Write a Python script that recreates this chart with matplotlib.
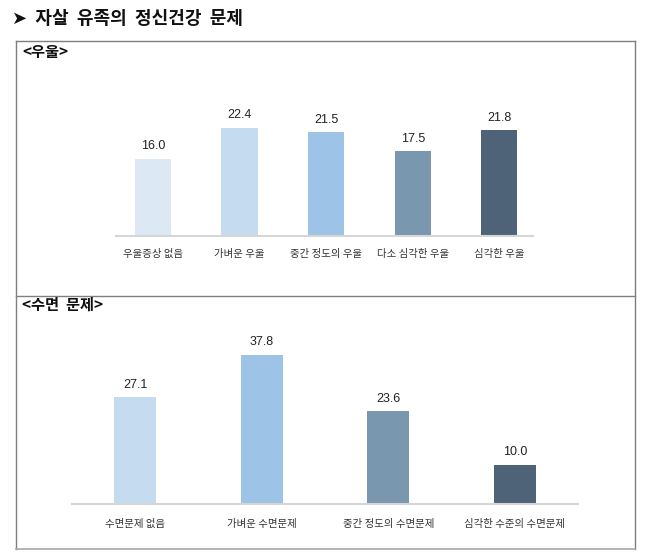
import matplotlib
matplotlib.use("Agg")
import matplotlib.pyplot as plt
from matplotlib.lines import Line2D

plt.rcParams['font.family'] = ['Noto Sans CJK KR', 'DejaVu Sans']

W, H = 658, 559

# 우울
dep_labels = ["우울증상 없음", "가벼운 우울", "중간 정도의 우울", "다소 심각한 우울", "심각한 우울"]
dep_values = [16.0, 22.4, 21.5, 17.5, 21.8]
dep_colors = ["#dce9f5", "#c5dcf0", "#9dc3e6", "#7a97b0", "#4f6378"]

# 수면 문제
sleep_labels = ["수면문제 없음", "가벼운 수면문제", "중간 정도의 수면문제", "심각한 수준의 수면문제"]
sleep_values = [27.1, 37.8, 23.6, 10.0]
sleep_colors = ["#c5dcf0", "#9dc3e6", "#7a97b0", "#4f6378"]


def px_axes(fig, x0, x1, y_top, y_base):
    # pixel box (top-down coords) -> figure axes
    return fig.add_axes([x0 / W, 1 - y_base / H, (x1 - x0) / W, (y_base - y_top) / H])


def bar_panel(ax, labels, values, colors, width, xlim, ymax, pad):
    x = range(len(values))
    ax.bar(x, values, width=width, color=colors)
    for i, v in zip(x, values):
        ax.annotate(f"{v:.1f}", (i, v), xytext=(0, 4.5), textcoords="offset points",
                    ha="center", va="bottom", fontsize=9, color="#222222",
                    family=["Liberation Sans", "DejaVu Sans"])
    ax.set_xlim(*xlim)
    ax.set_ylim(0, ymax)
    ax.set_xticks(list(x))
    ax.set_xticklabels(labels, fontsize=7.5, color="#333333")
    ax.tick_params(axis="x", length=0, pad=pad)
    ax.set_yticks([])
    for s in ["top", "right", "left"]:
        ax.spines[s].set_visible(False)
    ax.spines["bottom"].set_color("#d6d6d6")
    ax.spines["bottom"].set_linewidth(1.5)
    ax.patch.set_alpha(0)


fig = plt.figure(figsize=(W / 100, H / 100), dpi=100)

# outer frame and divider
def fline(x0, y0, x1, y1, color="#7f7f7f", lw=1.0):
    fig.add_artist(Line2D([x0 / W, x1 / W], [1 - y0 / H, 1 - y1 / H],
                          transform=fig.transFigure, color=color, lw=lw))

fline(16, 41, 635, 41)
fline(16, 41, 16, 549)
fline(635, 41, 635, 549)
fline(16, 296, 635, 296)
fline(16, 549, 635, 549, color="#a8a8a8", lw=1.2)

fig.text(12 / W, 1 - 18 / H, "➤  자살  유족의  정신건강  문제", fontsize=13,
         fontweight="bold", va="center", ha="left", color="#111111")
fig.text(22 / W, 1 - 52 / H, "<우울>", fontsize=11, fontweight="bold",
         va="center", ha="left", color="#111111")
fig.text(22 / W, 1 - 305 / H, "<수면  문제>", fontsize=11, fontweight="bold",
         va="center", ha="left", color="#111111")

ax1 = px_axes(fig, 116, 533, 60, 236)
bar_panel(ax1, dep_labels, dep_values, dep_colors, 0.42, (-0.428, 4.39),
          (236 - 60) / 4.84, 9)

ax2 = px_axes(fig, 72, 578, 315, 504)
bar_panel(ax2, sleep_labels, sleep_values, sleep_colors, 0.33, (-0.5, 3.5),
          (504 - 315) / 3.95, 10.5)

fig.savefig("out.png", dpi=100)
